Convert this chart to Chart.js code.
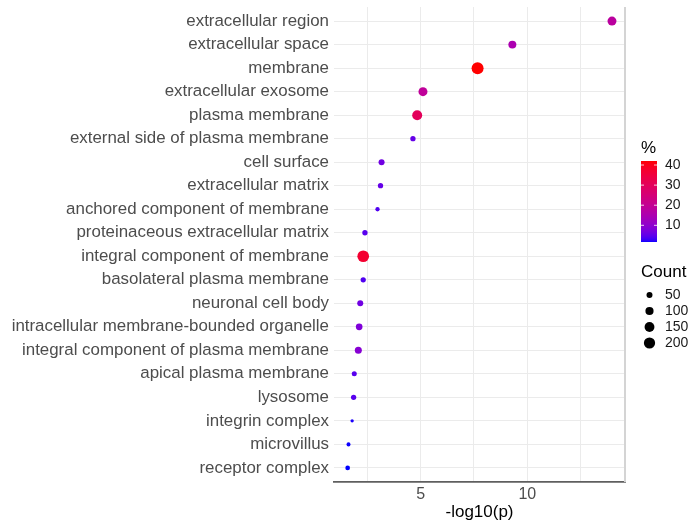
<!DOCTYPE html>
<html>
<head>
<meta charset="utf-8">
<script src="https://cdn.jsdelivr.net/npm/chart.js@4"></script>
<style>
  html, body { margin: 0; padding: 0; background: #fff; }
  #wrap { width: 693px; height: 525px; }
</style>
</head>
<body>
<div id="wrap"><canvas id="chart" width="693" height="525"></canvas></div>
<script>
// GO cellular component terms, top to bottom
const categories = [
  'extracellular region',
  'extracellular space',
  'membrane',
  'extracellular exosome',
  'plasma membrane',
  'external side of plasma membrane',
  'cell surface',
  'extracellular matrix',
  'anchored component of membrane',
  'proteinaceous extracellular matrix',
  'integral component of membrane',
  'basolateral plasma membrane',
  'neuronal cell body',
  'intracellular membrane-bounded organelle',
  'integral component of plasma membrane',
  'apical plasma membrane',
  'lysosome',
  'integrin complex',
  'microvillus',
  'receptor complex'
];
const logP = [13.97, 9.30, 7.67, 5.11, 4.84, 4.64, 3.17, 3.12, 2.98, 2.39,
              2.31, 2.31, 2.17, 2.12, 2.08, 1.89, 1.86, 1.79, 1.62, 1.58];
const counts = [123, 95, 230, 123, 155, 37, 50, 37, 23, 37,
                218, 37, 50, 64, 71, 33, 37, 12, 19, 28];
const percent = [18, 15, 42, 19, 30, 5.5, 6.5, 5.5, 4, 4.5,
                 37, 4, 6.5, 8, 9, 4.5, 4.5, 2, 1.8, 1.7];

const xGridValues = [2.5, 5, 7.5, 10, 12.5];
const xTickLabels = [5, 10];
const colorTicks = [10, 20, 30, 40];
const sizeTicks = [50, 100, 150, 200];

const FONT = "'Liberation Sans', Arial, sans-serif";

// blue -> red in Lab space (like scale_colour_gradient)
function toLab(hex) {
  const rgb = [1, 3, 5].map(i => parseInt(hex.substr(i, 2), 16) / 255)
    .map(c => c <= 0.04045 ? c / 12.92 : Math.pow((c + 0.055) / 1.055, 2.4));
  const [r, g, b] = rgb;
  const X = (0.4124 * r + 0.3576 * g + 0.1805 * b) / 0.95047;
  const Y = 0.2126 * r + 0.7152 * g + 0.0722 * b;
  const Z = (0.0193 * r + 0.1192 * g + 0.9505 * b) / 1.08883;
  const f = t => t > 0.008856 ? Math.cbrt(t) : 7.787 * t + 16 / 116;
  return [116 * f(Y) - 16, 500 * (f(X) - f(Y)), 200 * (f(Y) - f(Z))];
}
function labToRgb([L, a, bb]) {
  const fy = (L + 16) / 116, fx = fy + a / 500, fz = fy - bb / 200;
  const inv = t => t * t * t > 0.008856 ? t * t * t : (t - 16 / 116) / 7.787;
  const X = inv(fx) * 0.95047, Y = inv(fy), Z = inv(fz) * 1.08883;
  const lin = [
    3.2406 * X - 1.5372 * Y - 0.4986 * Z,
    -0.9689 * X + 1.8758 * Y + 0.0415 * Z,
    0.0557 * X - 0.2040 * Y + 1.0570 * Z
  ];
  const out = lin.map(c => {
    c = c <= 0.0031308 ? 12.92 * c : 1.055 * Math.pow(c, 1 / 2.4) - 0.055;
    return Math.round(Math.min(1, Math.max(0, c)) * 255);
  });
  return `rgb(${out[0]},${out[1]},${out[2]})`;
}
const LOW = toLab('#0000FF'), HIGH = toLab('#FF0000');
const pMin = Math.min(...percent), pMax = Math.max(...percent);
function colourFor(p) {
  const t = (p - pMin) / (pMax - pMin);
  return labToRgb(LOW.map((v, i) => v + (HIGH[i] - v) * t));
}
// point radius in px from count
function radiusFor(n) {
  return 0.39 + 0.37 * Math.sqrt(n);
}

const points = categories.map((c, i) => ({ x: logP[i], y: i, r: radiusFor(counts[i]) }));

// 右側の凡例（カラーバーとサイズ）
const sideLegend = {
  id: 'sideLegend',
  afterDraw(chart) {
    const c = chart.ctx;
    const area = chart.chartArea;
    c.save();

    // panel right edge
    c.strokeStyle = '#D4D4D4';
    c.lineWidth = 2;
    c.beginPath();
    c.moveTo(area.right, area.top);
    c.lineTo(area.right, area.bottom);
    c.stroke();

    // colour bar
    const bx = 641, by = 161, bw = 16, bh = 81;
    c.fillStyle = '#000';
    c.font = `17px ${FONT}`;
    c.textBaseline = 'middle';
    c.textAlign = 'left';
    c.fillText('%', 641, 148);
    for (let i = 0; i < bh; i++) {
      const v = pMax - (i + 0.5) / bh * (pMax - pMin);
      c.fillStyle = colourFor(v);
      c.fillRect(bx, by + i, bw, 1);
    }
    c.font = `14px ${FONT}`;
    colorTicks.forEach(v => {
      const y = by + (pMax - v) / (pMax - pMin) * bh;
      c.strokeStyle = 'rgba(255,255,255,0.8)';
      c.lineWidth = 1;
      c.beginPath();
      c.moveTo(bx, y); c.lineTo(bx + 3, y);
      c.moveTo(bx + bw - 3, y); c.lineTo(bx + bw, y);
      c.stroke();
      c.fillStyle = '#1A1A1A';
      c.fillText(String(v), 665, y);
    });

    // size legend
    c.fillStyle = '#000';
    c.font = `17px ${FONT}`;
    c.fillText('Count', 641, 272);
    c.font = `14px ${FONT}`;
    sizeTicks.forEach((n, i) => {
      const y = 295 + i * 16;
      c.fillStyle = '#000';
      c.beginPath();
      c.arc(649.5, y, radiusFor(n), 0, Math.PI * 2);
      c.fill();
      c.fillStyle = '#1A1A1A';
      c.fillText(String(n), 665, y);
    });
    c.restore();
  }
};

const chart = new Chart(document.getElementById('chart'), {
  type: 'bubble',
  data: {
    datasets: [{
      data: points,
      backgroundColor: percent.map(colourFor),
      borderWidth: 0,
      hoverBorderWidth: 0
    }]
  },
  options: {
    responsive: false,
    animation: false,
    events: [],
    layout: { padding: { top: 7, right: 68, bottom: 0, left: 0 } },
    plugins: {
      legend: { display: false },
      tooltip: { enabled: false }
    },
    scales: {
      x: {
        type: 'linear',
        min: 0.94,
        max: 14.58,
        afterBuildTicks: s => { s.ticks = xGridValues.map(v => ({ value: v })); },
        afterFit: s => { s.height = 43; s.paddingLeft = 0; s.paddingRight = 0; },
        ticks: {
          autoSkip: false,
          maxRotation: 0,
          padding: 3,
          color: '#4D4D4D',
          font: { family: FONT, size: 16 },
          callback: v => xTickLabels.includes(v) ? String(v) : ''
        },
        grid: { color: '#EBEBEB', lineWidth: 1, drawTicks: false },
        border: { display: true, color: '#5F5F5F', width: 1.8 },
        title: {
          display: true,
          text: '-log10(p)',
          color: '#000',
          font: { family: FONT, size: 17 },
          padding: { top: 0, bottom: 2 }
        }
      },
      y: {
        type: 'linear',
        min: -0.6,
        max: categories.length - 0.4,
        reverse: true,
        afterBuildTicks: s => { s.ticks = categories.map((c, i) => ({ value: i })); },
        afterFit: s => { s.width = 334; s.paddingTop = 0; s.paddingBottom = 0; },
        ticks: {
          autoSkip: false,
          padding: 5,
          color: '#4D4D4D',
          font: { family: FONT, size: 16.9 },
          callback: v => categories[v]
        },
        grid: { color: '#EBEBEB', lineWidth: 1, drawTicks: false },
        border: { display: false }
      }
    }
  },
  plugins: [sideLegend]
});
</script>
</body>
</html>
